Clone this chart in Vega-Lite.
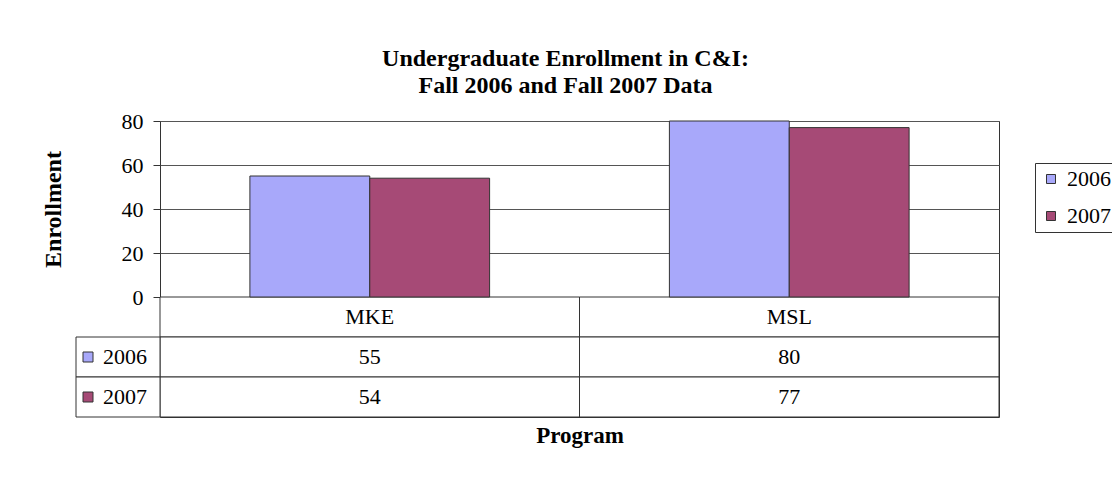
{
  "$schema": "https://vega.github.io/schema/vega-lite/v6.json",
  "width": 839,
  "height": 296,
  "autosize": {"type": "none"},
  "padding": {"left": 160, "top": 121, "right": 113, "bottom": 64},
  "background": "white",
  "title": {"text": ["Undergraduate Enrollment in C&I:", "Fall 2006 and  Fall 2007 Data"]},
  "data": {
    "values": [
      {"program": "MKE", "year": "2006", "enrollment": 55},
      {"program": "MKE", "year": "2007", "enrollment": 54},
      {"program": "MSL", "year": "2006", "enrollment": 80},
      {"program": "MSL", "year": "2007", "enrollment": 77}
    ]
  },
  "layer": [
    {
      "transform": [{"filter": "datum.year == '2006'"}],
      "mark": {"type": "rect", "fill": "white", "stroke": "#333", "strokeWidth": 1},
      "encoding": {
        "x": {"field": "program", "type": "nominal", "scale": {"domain": ["MKE", "MSL"], "paddingInner": 0, "paddingOuter": 0}, "axis": null},
        "y": {"datum": "header", "type": "nominal", "scale": {"type": "band", "domain": ["header", "2006", "2007"], "range": [176, 296], "paddingInner": 0, "paddingOuter": 0}, "axis": null}
      }
    },
    {
      "transform": [{"filter": "datum.year == '2006'"}],
      "mark": {"type": "text", "font": "Liberation Serif", "fontSize": 22, "color": "black", "baseline": "middle"},
      "encoding": {
        "x": {"field": "program", "type": "nominal", "scale": {"domain": ["MKE", "MSL"], "paddingInner": 0, "paddingOuter": 0}, "axis": null},
        "y": {"datum": "header", "type": "nominal", "scale": {"type": "band", "domain": ["header", "2006", "2007"], "range": [176, 296], "paddingInner": 0, "paddingOuter": 0}, "axis": null},
        "text": {"field": "program", "type": "nominal"}
      }
    },
    {
      "mark": {"type": "rect", "fill": "white", "stroke": "#333", "strokeWidth": 1},
      "encoding": {
        "x": {"field": "program", "type": "nominal", "scale": {"domain": ["MKE", "MSL"], "paddingInner": 0, "paddingOuter": 0}, "axis": null},
        "y": {"field": "year", "type": "nominal", "scale": {"type": "band", "domain": ["header", "2006", "2007"], "range": [176, 296], "paddingInner": 0, "paddingOuter": 0}, "axis": null}
      }
    },
    {
      "mark": {"type": "text", "font": "Liberation Serif", "fontSize": 22, "color": "black", "baseline": "middle"},
      "encoding": {
        "x": {"field": "program", "type": "nominal", "scale": {"domain": ["MKE", "MSL"], "paddingInner": 0, "paddingOuter": 0}, "axis": null},
        "y": {"field": "year", "type": "nominal", "scale": {"type": "band", "domain": ["header", "2006", "2007"], "range": [176, 296], "paddingInner": 0, "paddingOuter": 0}, "axis": null},
        "text": {"field": "enrollment", "type": "quantitative"}
      }
    },
    {
      "transform": [{"filter": "datum.program == 'MKE'"}],
      "mark": {"type": "rect", "fill": "white", "stroke": "#333", "strokeWidth": 1},
      "encoding": {
        "x": {"datum": "label", "type": "nominal", "scale": {"type": "band", "domain": ["label"], "range": [-84, 0], "paddingInner": 0, "paddingOuter": 0}, "axis": null},
        "y": {"field": "year", "type": "nominal", "scale": {"type": "band", "domain": ["header", "2006", "2007"], "range": [176, 296], "paddingInner": 0, "paddingOuter": 0}, "axis": null}
      }
    },
    {
      "transform": [{"filter": "datum.program == 'MKE'"}],
      "mark": {"type": "text", "font": "Liberation Serif", "fontSize": 22, "color": "black", "baseline": "middle", "align": "left", "dx": -15},
      "encoding": {
        "x": {"datum": "label", "type": "nominal", "scale": {"type": "band", "domain": ["label"], "range": [-84, 0], "paddingInner": 0, "paddingOuter": 0}, "axis": null},
        "y": {"field": "year", "type": "nominal", "scale": {"type": "band", "domain": ["header", "2006", "2007"], "range": [176, 296], "paddingInner": 0, "paddingOuter": 0}, "axis": null},
        "text": {"field": "year", "type": "nominal"}
      }
    },
    {
      "transform": [{"filter": "datum.program == 'MKE'"}],
      "mark": {"type": "point", "shape": "square", "filled": true, "opacity": 1, "size": 100, "stroke": "#333", "strokeWidth": 1, "xOffset": -30},
      "encoding": {
        "x": {"datum": "label", "type": "nominal", "scale": {"type": "band", "domain": ["label"], "range": [-84, 0], "paddingInner": 0, "paddingOuter": 0}, "axis": null},
        "y": {"field": "year", "type": "nominal", "scale": {"type": "band", "domain": ["header", "2006", "2007"], "range": [176, 296], "paddingInner": 0, "paddingOuter": 0}, "axis": null},
        "color": {"field": "year", "type": "nominal"}
      }
    },
    {
      "mark": {"type": "bar", "stroke": "#333", "strokeWidth": 1},
      "encoding": {
        "x": {"field": "program", "type": "nominal", "scale": {"domain": ["MKE", "MSL"], "paddingInner": 0, "paddingOuter": 0}, "axis": {"title": "Program", "labels": false, "ticks": false, "domain": false, "grid": false, "titlePadding": 7, "titleFontSize": 23}},
        "xOffset": {"field": "year", "type": "nominal", "scale": {"paddingInner": 0, "paddingOuter": 0.75}},
        "y": {"field": "enrollment", "type": "quantitative", "scale": {"domain": [0, 80], "range": [176, 0], "nice": false}, "axis": {"title": "Enrollment", "values": [0, 20, 40, 60, 80], "grid": true, "domain": false, "tickSize": 7, "labelPadding": 10, "titlePadding": 56, "titleFontSize": 24}},
        "color": {
          "field": "year", "type": "nominal",
          "scale": {"domain": ["2006", "2007"], "range": ["#A8A8FA", "#A64A76"]},
          "legend": {"orient": "none", "legendX": 875, "legendY": 42, "title": null, "strokeColor": "#333", "fillColor": "white", "padding": 5, "symbolType": "square", "symbolSize": 81, "symbolStrokeColor": "#333", "symbolStrokeWidth": 1, "symbolOpacity": 1, "labelFont": "Liberation Serif", "labelFontSize": 22, "labelColor": "black", "labelOffset": 5, "rowPadding": 15}
        }
      }
    }
  ],
  "resolve": {"scale": {"x": "independent", "y": "independent"}},
  "config": {
    "view": {"stroke": "#333", "strokeWidth": 1},
    "title": {"font": "Liberation Serif", "fontSize": 24, "fontWeight": "bold", "lineHeight": 27, "anchor": "middle", "dx": -14, "offset": 12, "color": "black"},
    "axis": {"labelFont": "Liberation Serif", "labelFontSize": 22, "labelColor": "black", "titleFont": "Liberation Serif", "titleFontSize": 22, "titleFontWeight": "bold", "titleColor": "black", "tickColor": "#333", "gridColor": "#555", "gridOpacity": 1}
  }
}
